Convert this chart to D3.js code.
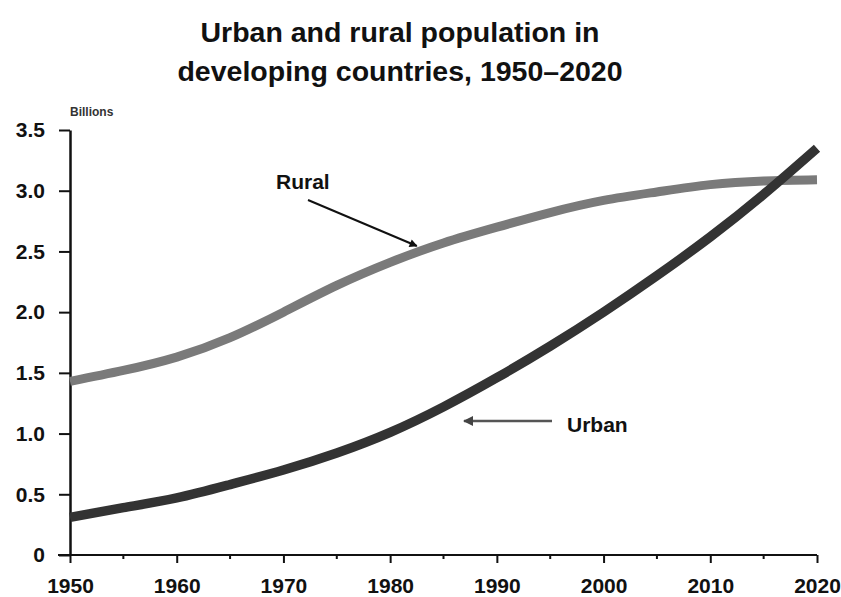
<!DOCTYPE html>
<html lang="en">
<head>
<meta charset="UTF-8">
<title>Urban and rural population</title>
<style>
  body { margin: 0; background: #fff; }
  text { font-family: "Liberation Sans", Arial, sans-serif; font-weight: bold; }
</style>
</head>
<body>
<div id="chart"></div>
<script src="https://d3js.org/d3.v7.min.js"></script>
<script>
// data (billions)
var years = [1950, 1955, 1960, 1965, 1970, 1975, 1980, 1985, 1990, 1995, 2000, 2005, 2010, 2015, 2020];
var rural = [1.43, 1.52, 1.63, 1.79, 2.00, 2.22, 2.41, 2.57, 2.70, 2.82, 2.92, 2.99, 3.05, 3.08, 3.09];
var urban = [0.31, 0.39, 0.47, 0.58, 0.70, 0.84, 1.01, 1.22, 1.46, 1.72, 2.00, 2.30, 2.62, 2.97, 3.35];
var yTicks = [0, 0.5, 1.0, 1.5, 2.0, 2.5, 3.0, 3.5];
var xTicks = [1950, 1960, 1970, 1980, 1990, 2000, 2010, 2020];
var xMinor = [1955, 1965, 1975, 1985, 1995, 2005, 2015];
var titleLines = ["Urban and rural population in", "developing countries, 1950\u20132020"];

var W = 841, H = 597;
var svg = d3.select("#chart").append("svg").attr("width", W).attr("height", H);

var x = d3.scaleLinear().domain([1950, 2020]).range([70, 817]);
var y = d3.scaleLinear().domain([0, 3.5]).range([555, 130]);

// title
svg.selectAll(".title").data(titleLines).enter().append("text")
    .attr("x", 400)
    .attr("y", function(d, i) { return 42 + i * 39; })
    .attr("text-anchor", "middle")
    .style("font-size", "28.5px")
    .style("fill", "#111")
    .text(function(d) { return d; });

// units label
svg.append("text").attr("x", 70).attr("y", 116)
    .style("font-size", "12px").style("fill", "#333")
    .text("Billions");

// minor x ticks
svg.append("g").selectAll("line").data(xMinor).enter().append("line")
    .attr("x1", function(d) { return x(d); }).attr("x2", function(d) { return x(d); })
    .attr("y1", 555).attr("y2", 559)
    .attr("stroke", "#111").attr("stroke-width", 2);

// x axis
var xAxis = svg.append("g")
    .attr("transform", "translate(0,555)")
    .call(d3.axisBottom(x).tickValues(xTicks).tickFormat(d3.format("d"))
        .tickSize(8).tickSizeOuter(0).tickPadding(15));
xAxis.select(".domain").attr("d", "M58,0H817").attr("stroke", "#111").attr("stroke-width", 2);
xAxis.selectAll(".tick line").attr("stroke", "#111").attr("stroke-width", 2);
xAxis.selectAll(".tick text").style("font-size", "21px").style("fill", "#111")
    .style("font-family", "'Liberation Sans', Arial, sans-serif");

// y axis
var yAxis = svg.append("g")
    .attr("transform", "translate(70,0)")
    .call(d3.axisLeft(y).tickValues(yTicks)
        .tickFormat(function(d) { return d === 0 ? "0" : d.toFixed(1); })
        .tickSize(11).tickSizeOuter(0).tickPadding(14));
yAxis.select(".domain").attr("stroke", "#111").attr("stroke-width", 2.5);
yAxis.selectAll(".tick line").attr("stroke", "#111").attr("stroke-width", 2);
yAxis.selectAll(".tick text").style("font-size", "21px").style("fill", "#111")
    .style("font-family", "'Liberation Sans', Arial, sans-serif");

// lines
var line = d3.line()
    .x(function(d) { return x(d[0]); })
    .y(function(d) { return y(d[1]); })
    .curve(d3.curveNatural);

svg.append("path")
    .datum(d3.zip(years, rural))
    .attr("d", line)
    .attr("fill", "none")
    .attr("stroke", "#7a7a7a")
    .attr("stroke-width", 9);

svg.append("path")
    .datum(d3.zip(years, urban))
    .attr("d", line)
    .attr("fill", "none")
    .attr("stroke", "#333")
    .attr("stroke-width", 9.5);

// arrow markers
var defs = svg.append("defs");
defs.append("marker").attr("id", "arrowBlack")
    .attr("viewBox", "0 0 10 10").attr("refX", 9).attr("refY", 5)
    .attr("markerWidth", 5).attr("markerHeight", 4).attr("orient", "auto")
    .append("path").attr("d", "M0,0L10,5L0,10z").attr("fill", "#111");
defs.append("marker").attr("id", "arrowGrey")
    .attr("viewBox", "0 0 10 10").attr("refX", 9).attr("refY", 5)
    .attr("markerWidth", 5).attr("markerHeight", 4).attr("orient", "auto")
    .append("path").attr("d", "M0,0L10,5L0,10z").attr("fill", "#444");

// annotations
svg.append("text").attr("x", 276).attr("y", 189)
    .style("font-size", "21px").style("fill", "#111").text("Rural");
svg.append("line")
    .attr("x1", 308).attr("y1", 200).attr("x2", x(1982.5)).attr("y2", 246)
    .attr("stroke", "#111").attr("stroke-width", 2)
    .attr("marker-end", "url(#arrowBlack)");

svg.append("text").attr("x", 567).attr("y", 432)
    .style("font-size", "21px").style("fill", "#111").text("Urban");
svg.append("line")
    .attr("x1", 552).attr("y1", 421).attr("x2", 464).attr("y2", 421)
    .attr("stroke", "#555").attr("stroke-width", 2.5)
    .attr("marker-end", "url(#arrowGrey)");
</script>
</body>
</html>
